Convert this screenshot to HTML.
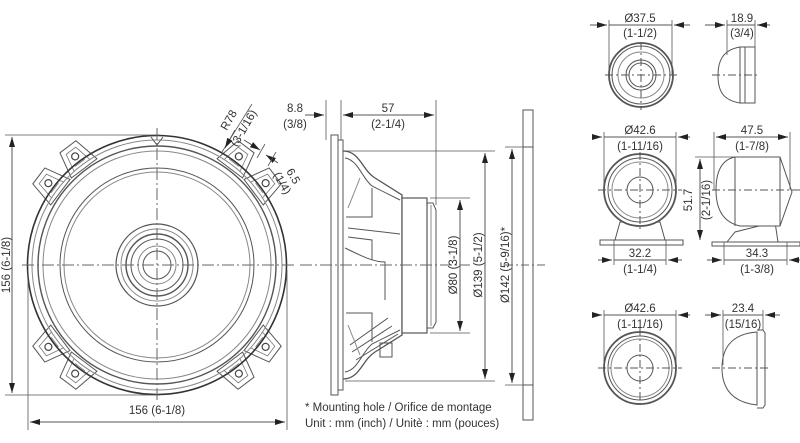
<!DOCTYPE html>
<html><head><meta charset="utf-8"><style>
html,body{margin:0;padding:0;background:#fff;}
svg{display:block;}
text{font-family:"Liberation Sans",sans-serif;fill:#333;font-size:11.5px;}
</style></head><body>
<svg width="800" height="443" viewBox="0 0 800 443" xmlns="http://www.w3.org/2000/svg">
<defs>
<marker id="a" viewBox="0 0 10 6" refX="10" refY="3" markerWidth="10" markerHeight="6" orient="auto-start-reverse" markerUnits="userSpaceOnUse"><path d="M0,0L10,3L0,6z" fill="#222"/></marker>
<g id="tab">
<polygon points="-16,-121 -10,-148 10,-148 16,-121" fill="#fff" stroke="#555" stroke-width="1"/>
<polyline points="-10,-124 -6,-143 6,-143 10,-124" fill="none" stroke="#777" stroke-width="0.8"/>
<circle cx="0" cy="-136" r="3.5" fill="#fff" stroke="#444" stroke-width="1.2"/>
<line x1="-6" y1="-128" x2="6" y2="-128" stroke="#777" stroke-width="0.8"/>
</g>
</defs>
<g stroke="#555" fill="none" stroke-width="1">
<!-- front view -->
<g transform="translate(157,265)">
<use href="#tab" transform="rotate(-53)"/><use href="#tab" transform="rotate(-37)"/>
<use href="#tab" transform="rotate(37)"/><use href="#tab" transform="rotate(53)"/>
<use href="#tab" transform="rotate(127)"/><use href="#tab" transform="rotate(143)"/>
<use href="#tab" transform="rotate(-127)"/><use href="#tab" transform="rotate(-143)"/>
<circle r="129.5" fill="none" stroke="#333" stroke-width="1.6"/>
<circle r="125" stroke="#888"/>
<circle r="119" stroke-width="1.4"/>
<circle r="114" stroke="#888"/>
<circle r="97"/>
<circle r="93" stroke="#888"/>
<circle r="41" stroke-width="1.2"/>
<circle r="36" stroke="#888"/>
<circle r="31" stroke-width="1.4"/>
<circle r="26"/>
<circle r="19" stroke="#888"/>
<circle r="14"/>
<path d="M-6,-128 L0,-120 L6,-128" />
</g>
<line x1="22" y1="265" x2="295" y2="265" stroke-dasharray="12,3,2,3" stroke="#666"/>
<line x1="157" y1="128" x2="157" y2="402" stroke-dasharray="12,3,2,3" stroke="#666"/>
<!-- front dims -->
<line x1="5" y1="135" x2="160" y2="135" stroke-width="0.8"/>
<line x1="5" y1="395" x2="160" y2="395" stroke-width="0.8"/>
<line x1="12" y1="137" x2="12" y2="393" marker-start="url(#a)" marker-end="url(#a)"/>
<line x1="28" y1="270" x2="28" y2="430" stroke-width="0.8"/>
<line x1="287" y1="270" x2="287" y2="430" stroke-width="0.8"/>
<line x1="30" y1="422" x2="285" y2="422" marker-start="url(#a)" marker-end="url(#a)"/>
<!-- R78 -->
<line x1="252" y1="104" x2="222" y2="152" stroke-width="0.8"/>
<line x1="235" y1="130" x2="225" y2="148" marker-end="url(#a)"/>
<line x1="244" y1="140" x2="260" y2="150" marker-end="url(#a)"/>
<line x1="278" y1="163" x2="266" y2="155" marker-end="url(#a)"/>
<line x1="265" y1="144" x2="257" y2="158" stroke-width="0.8"/>
<line x1="276" y1="152" x2="268" y2="166" stroke-width="0.8"/>
<!-- side view -->
<rect x="331" y="135" width="7" height="260" fill="#fff"/>
<rect x="338" y="140" width="5" height="250"/>
<path d="M343,151 C360,151 362,170 375,178 L402,195 L402,335 L375,352 C362,360 360,379 343,379" stroke-width="1.3"/>
<path d="M345,158 C358,160 362,178 372,186 L400,200 M345,372 C358,370 362,352 372,344 L400,330"/>
<path d="M346,217 L372,217 L372,188 M346,313 L372,313 L372,342 M348,228 L400,234 M348,237 L372,240 L372,260 M345,248 C360,255 372,262 385,262 L385,300 M350,345 L388,318 M352,352 L392,326 M356,360 L398,334"/>
<path d="M348,208 L360,178 M348,325 L360,355" stroke="#888"/>
<rect x="402" y="198" width="25" height="135" fill="#fff" stroke-width="1.2"/>
<path d="M427,203 L433,203 L436,210 L436,322 L433,328 L427,328"/>
<line x1="431" y1="205" x2="431" y2="326" stroke="#888"/>
<rect x="380" y="343" width="12" height="14"/>
<line x1="300" y1="265" x2="470" y2="265" stroke-dasharray="12,3,2,3" stroke="#666"/>
<!-- side dims -->
<line x1="326" y1="100" x2="326" y2="140" stroke-width="0.8"/>
<line x1="341" y1="100" x2="341" y2="140" stroke-width="0.8"/>
<line x1="436" y1="100" x2="436" y2="205" stroke-width="0.8"/>
<line x1="305" y1="115" x2="324" y2="115" marker-end="url(#a)"/>
<line x1="343" y1="115" x2="434" y2="115" marker-start="url(#a)" marker-end="url(#a)"/>
<line x1="430" y1="198" x2="470" y2="198" stroke-width="0.8"/>
<line x1="430" y1="333" x2="470" y2="333" stroke-width="0.8"/>
<line x1="460" y1="200" x2="460" y2="331" marker-start="url(#a)" marker-end="url(#a)"/>
<line x1="345" y1="151" x2="495" y2="151" stroke-width="0.8"/>
<line x1="345" y1="381" x2="495" y2="381" stroke-width="0.8"/>
<line x1="485" y1="153" x2="485" y2="379" marker-start="url(#a)" marker-end="url(#a)"/>
<line x1="505" y1="147" x2="533" y2="147" stroke-width="0.8"/>
<line x1="505" y1="385" x2="533" y2="385" stroke-width="0.8"/>
<line x1="512" y1="149" x2="512" y2="383" marker-start="url(#a)" marker-end="url(#a)"/>
<rect x="523" y="110" width="10" height="310"/>
<line x1="523" y1="147" x2="533" y2="147"/><line x1="523" y1="385" x2="533" y2="385"/>
<line x1="505" y1="265" x2="545" y2="265" stroke-dasharray="8,3,2,3" stroke="#666"/>
<!-- tweeter 1 -->
<circle cx="641" cy="75" r="32" stroke-width="1.8"/>
<circle cx="641" cy="75" r="29"/>
<circle cx="641" cy="75" r="23" stroke="#888"/>
<circle cx="641" cy="75" r="15"/>
<circle cx="641" cy="75" r="12"/>
<line x1="605" y1="75" x2="677" y2="75" stroke-dasharray="8,3,2,3"/>
<line x1="641" y1="42" x2="641" y2="110" stroke-dasharray="8,3,2,3"/>
<line x1="609" y1="20" x2="609" y2="75" stroke-width="0.8"/>
<line x1="672" y1="20" x2="672" y2="75" stroke-width="0.8"/>
<line x1="590" y1="25" x2="607" y2="25" marker-end="url(#a)"/>
<line x1="690" y1="25" x2="674" y2="25" marker-end="url(#a)"/>
<line x1="609" y1="25" x2="672" y2="25"/>
<path d="M740,47 C722,50 718,62 718,75 C718,90 722,100 740,103 Z"/>
<rect x="740" y="47" width="15" height="56"/>
<line x1="745" y1="47" x2="745" y2="103"/>
<line x1="727" y1="20" x2="727" y2="55" stroke-width="0.8"/>
<line x1="755" y1="20" x2="755" y2="47" stroke-width="0.8"/>
<line x1="705" y1="25" x2="725" y2="25" marker-end="url(#a)"/>
<line x1="770" y1="25" x2="757" y2="25" marker-end="url(#a)"/>
<line x1="727" y1="25" x2="755" y2="25"/>
<line x1="712" y1="75" x2="760" y2="75" stroke-dasharray="8,3,2,3"/>
<!-- tweeter 2 -->
<path d="M615,240 L620,222 L660,222 L665,240 Z"/>
<rect x="600" y="240" width="83" height="5"/>
<circle cx="640" cy="190" r="36" fill="#fff" stroke-width="1.8"/>
<circle cx="640" cy="190" r="32"/>
<circle cx="640" cy="190" r="28" stroke="#888"/>
<circle cx="640" cy="190" r="13"/>
<line x1="598" y1="190" x2="682" y2="190" stroke-dasharray="8,3,2,3"/>
<line x1="640" y1="152" x2="640" y2="230" stroke-dasharray="8,3,2,3"/>
<line x1="604" y1="132" x2="604" y2="190" stroke-width="0.8"/>
<line x1="676" y1="132" x2="676" y2="190" stroke-width="0.8"/>
<line x1="592" y1="137" x2="602" y2="137" marker-end="url(#a)"/>
<line x1="690" y1="137" x2="678" y2="137" marker-end="url(#a)"/>
<line x1="604" y1="137" x2="676" y2="137"/>
<line x1="614" y1="240" x2="614" y2="265" stroke-width="0.8"/>
<line x1="666" y1="240" x2="666" y2="265" stroke-width="0.8"/>
<line x1="598" y1="260" x2="612" y2="260" marker-end="url(#a)"/>
<line x1="682" y1="260" x2="668" y2="260" marker-end="url(#a)"/>
<line x1="614" y1="260" x2="666" y2="260"/>
<!-- side 2 -->
<path d="M727,242 L735,232 L775,222 L778,242 Z"/>
<rect x="712" y="242" width="88" height="4"/>
<path d="M735,157 C720,160 716,175 716,190 C716,208 722,222 740,226 L780,226 L792,192 L780,157 Z" fill="#fff"/>
<line x1="735" y1="157" x2="735" y2="226"/>
<line x1="780" y1="157" x2="780" y2="226"/>
<line x1="712" y1="190" x2="800" y2="190" stroke-dasharray="8,3,2,3"/>
<line x1="714" y1="132" x2="714" y2="190" stroke-width="0.8"/>
<line x1="790" y1="132" x2="790" y2="190" stroke-width="0.8"/>
<line x1="716" y1="137" x2="788" y2="137" marker-start="url(#a)" marker-end="url(#a)"/>
<line x1="695" y1="157" x2="735" y2="157" stroke-width="0.8"/>
<line x1="700" y1="159" x2="700" y2="240" marker-start="url(#a)" marker-end="url(#a)"/>
<line x1="724" y1="242" x2="724" y2="265" stroke-width="0.8"/>
<line x1="787" y1="242" x2="787" y2="265" stroke-width="0.8"/>
<line x1="707" y1="260" x2="722" y2="260" marker-end="url(#a)"/>
<line x1="800" y1="260" x2="789" y2="260" marker-end="url(#a)"/>
<line x1="724" y1="260" x2="787" y2="260"/>
<!-- tweeter 3 -->
<circle cx="640" cy="368" r="36" stroke-width="1.8"/>
<circle cx="640" cy="368" r="32"/>
<circle cx="640" cy="368" r="29" stroke="#888"/>
<circle cx="640" cy="368" r="13"/>
<line x1="598" y1="368" x2="682" y2="368" stroke-dasharray="8,3,2,3"/>
<line x1="640" y1="328" x2="640" y2="408" stroke-dasharray="8,3,2,3"/>
<line x1="604" y1="310" x2="604" y2="368" stroke-width="0.8"/>
<line x1="676" y1="310" x2="676" y2="368" stroke-width="0.8"/>
<line x1="592" y1="315" x2="602" y2="315" marker-end="url(#a)"/>
<line x1="690" y1="315" x2="678" y2="315" marker-end="url(#a)"/>
<line x1="604" y1="315" x2="676" y2="315"/>
<path d="M757,332 C730,334 722,350 722,368 C722,386 730,402 757,405 Z"/>
<path d="M757,330 L763,330 L765,333 L765,405 L763,408 L757,408"/>
<line x1="712" y1="368" x2="770" y2="368" stroke-dasharray="8,3,2,3"/>
<line x1="723" y1="310" x2="723" y2="365" stroke-width="0.8"/>
<line x1="763" y1="310" x2="763" y2="330" stroke-width="0.8"/>
<line x1="705" y1="315" x2="721" y2="315" marker-end="url(#a)"/>
<line x1="780" y1="315" x2="765" y2="315" marker-end="url(#a)"/>
<line x1="723" y1="315" x2="763" y2="315"/>
</g>
<!-- text -->
<text x="157" y="414" text-anchor="middle" font-size="12">156 (6-1/8)</text>
<text transform="translate(14,265) rotate(-90)" text-anchor="middle" font-size="12" y="-4">156 (6-1/8)</text>
<text transform="translate(232,122) rotate(-60)" text-anchor="middle">R78</text>
<text transform="translate(247,130) rotate(-60)" text-anchor="middle">(3-1/16)</text>
<text transform="translate(290,178) rotate(60)" text-anchor="middle">6.5</text>
<text transform="translate(279,185) rotate(60)" text-anchor="middle">(1/4)</text>
<text x="295" y="112" text-anchor="middle">8.8</text>
<text x="295" y="128" text-anchor="middle">(3/8)</text>
<text x="388" y="112" text-anchor="middle">57</text>
<text x="388" y="128" text-anchor="middle">(2-1/4)</text>
<text transform="translate(457,265) rotate(-90)" text-anchor="middle">Ø80 (3-1/8)</text>
<text transform="translate(482,265) rotate(-90)" text-anchor="middle">Ø139 (5-1/2)</text>
<text transform="translate(509,265) rotate(-90)" text-anchor="middle">Ø142 (5-9/16)*</text>
<text x="305" y="411" font-size="12">* Mounting hole / Orifice de montage</text>
<text x="305" y="427" font-size="12">Unit : mm (inch) / Unitè : mm (pouces)</text>
<text x="640" y="22" text-anchor="middle">Ø37.5</text>
<text x="640" y="37" text-anchor="middle">(1-1/2)</text>
<text x="742" y="22" text-anchor="middle">18.9</text>
<text x="742" y="37" text-anchor="middle">(3/4)</text>
<text x="640" y="134" text-anchor="middle">Ø42.6</text>
<text x="640" y="150" text-anchor="middle">(1-11/16)</text>
<text x="752" y="134" text-anchor="middle">47.5</text>
<text x="752" y="150" text-anchor="middle">(1-7/8)</text>
<text transform="translate(692,200) rotate(-90)" text-anchor="middle">51.7</text>
<text transform="translate(710,200) rotate(-90)" text-anchor="middle">(2-1/16)</text>
<text x="640" y="257" text-anchor="middle">32.2</text>
<text x="640" y="273" text-anchor="middle">(1-1/4)</text>
<text x="757" y="257" text-anchor="middle">34.3</text>
<text x="757" y="273" text-anchor="middle">(1-3/8)</text>
<text x="640" y="312" text-anchor="middle">Ø42.6</text>
<text x="640" y="328" text-anchor="middle">(1-11/16)</text>
<text x="743" y="312" text-anchor="middle">23.4</text>
<text x="743" y="328" text-anchor="middle">(15/16)</text>
</svg>
</body></html>
